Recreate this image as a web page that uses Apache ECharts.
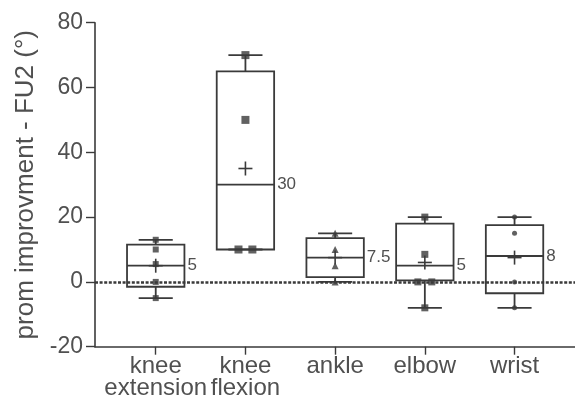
<!DOCTYPE html>
<html>
<head>
<meta charset="utf-8">
<script src="https://cdn.jsdelivr.net/npm/echarts@6/dist/echarts.min.js"></script>
<style>
  html, body { margin: 0; padding: 0; background: #fff; }
  #chart { width: 575px; height: 410px; }
</style>
</head>
<body>
<div id="chart"></div>
<script>
// Joint groups along the x axis
const categories = ['knee\nextension', 'knee\nflexion', 'ankle', 'elbow', 'wrist'];

// Box-and-whisker summary per joint (degrees)
const whiskerLow  = [-5, 10, 0, -8, -8];
const quartile1   = [-1.5, 10, 1.5, 0.5, -3.5];
const medians     = [5, 30, 7.5, 5, 8];
const quartile3   = [11.5, 65, 13.5, 18, 17.5];
const whiskerHigh = [13, 70, 15, 20, 20];
const means       = [5, 35, 7.5, 6, 7.5];

// Individual observations per joint
const kneeExtensionPts = [13, 10, 5.5, 0, -5];
const kneeFlexionPts   = [70, 50, 10, 10];
const anklePts         = [15, 10, 5, 0];
const elbowPts         = [20, 8.5, 0, 0, -8];
const wristPts         = [20, 15, 0, -8];

// Y axis ticks
const yTicks = [-20, 0, 20, 40, 60, 80];

const pointGroups = [
  { pts: kneeExtensionPts, symbol: 'rect', size: 6 },
  { pts: kneeFlexionPts,   symbol: 'rect', size: 8 },
  { pts: anklePts,         symbol: 'triangle', size: 7 },
  { pts: elbowPts,         symbol: 'rect', size: 7 },
  { pts: wristPts,         symbol: 'circle', size: 5 }
];

const INK = '#3a3a3a';
const TEXT = '#505050';
const FONT = '"Liberation Sans", Arial, sans-serif';
const BOX_W = 0.64;
const CAP_W = 0.38;

// Tied values are spread side by side
function spread(values, xc) {
  const seen = {};
  values.forEach(v => { seen[v] = (seen[v] || 0) + 1; });
  const used = {};
  return values.map(v => {
    const n = seen[v];
    const k = used[v] || 0;
    used[v] = k + 1;
    const off = n > 1 ? (k - (n - 1) / 2) * 0.155 : 0;
    return [xc + off, v];
  });
}

const boxData = categories.map((c, i) => [
  i + 1, whiskerLow[i], quartile1[i], medians[i], quartile3[i], whiskerHigh[i], means[i]
]);

function renderBox(params, api) {
  const x = api.value(0);
  const low = api.coord([x, api.value(1)]);
  const q1 = api.coord([x, api.value(2)]);
  const med = api.coord([x, api.value(3)]);
  const q3 = api.coord([x, api.value(4)]);
  const high = api.coord([x, api.value(5)]);
  const mean = api.coord([x, api.value(6)]);
  const bw = api.size([BOX_W, 0])[0];
  const cw = api.size([CAP_W, 0])[0];
  const cx = low[0];
  const line = { stroke: INK, lineWidth: 1.8, fill: null };
  const children = [
    { type: 'rect', shape: { x: cx - bw / 2, y: q3[1], width: bw, height: q1[1] - q3[1] }, style: line },
    { type: 'line', shape: { x1: cx - bw / 2, y1: med[1], x2: cx + bw / 2, y2: med[1] }, style: line },
    { type: 'line', shape: { x1: cx, y1: q3[1], x2: cx, y2: high[1] }, style: line },
    { type: 'line', shape: { x1: cx, y1: q1[1], x2: cx, y2: low[1] }, style: line },
    { type: 'line', shape: { x1: cx - cw / 2, y1: high[1], x2: cx + cw / 2, y2: high[1] }, style: line },
    { type: 'line', shape: { x1: cx - cw / 2, y1: low[1], x2: cx + cw / 2, y2: low[1] }, style: line },
    // mean marker
    { type: 'line', shape: { x1: cx - 7, y1: mean[1], x2: cx + 7, y2: mean[1] }, style: { stroke: INK, lineWidth: 1.6 } },
    { type: 'line', shape: { x1: cx, y1: mean[1] - 7, x2: cx, y2: mean[1] + 7 }, style: { stroke: INK, lineWidth: 1.6 } },
    // median value label
    { type: 'text', x: cx + bw / 2 + 3, y: med[1],
      style: { text: String(api.value(3)), fill: TEXT, font: '17px ' + FONT,
               verticalAlign: 'middle', align: 'left' } }
  ];
  return { type: 'group', children };
}

const series = [
  {
    type: 'custom',
    renderItem: renderBox,
    data: boxData,
    encode: { x: 0, y: [1, 2, 3, 4, 5] },
    z: 3,
    markLine: {
      silent: true,
      symbol: 'none',
      label: { show: false },
      lineStyle: { color: INK, type: [3, 1.6], width: 2.6 },
      data: [{ yAxis: 0 }]
    }
  }
];

pointGroups.forEach((g, i) => {
  series.push({
    type: 'scatter',
    data: spread(g.pts, i + 1),
    symbol: g.symbol,
    symbolSize: g.size,
    itemStyle: { color: INK },
    z: 4
  });
});

const chart = echarts.init(document.getElementById('chart'), null, { renderer: 'canvas' });
chart.setOption({
  animation: false,
  backgroundColor: '#fff',
  grid: { left: 95, right: 0, top: 22.7, bottom: 63.3, containLabel: false },
  xAxis: {
    type: 'value',
    min: 0.323,
    max: 5.674,
    splitLine: { show: false },
    axisLine: { show: true, onZero: false, lineStyle: { color: INK, width: 1.6 } },
    axisTick: { show: true, length: 8, customValues: [1, 2, 3, 4, 5], lineStyle: { color: INK, width: 1.4 } },
    axisLabel: {
      customValues: [1, 2, 3, 4, 5],
      formatter: v => categories[Math.round(v) - 1],
      color: TEXT,
      fontSize: 24,
      lineHeight: 22,
      margin: 9,
      fontFamily: FONT
    }
  },
  yAxis: {
    type: 'value',
    min: yTicks[0],
    max: yTicks[yTicks.length - 1],
    interval: 20,
    splitLine: { show: false },
    axisLine: { show: true, lineStyle: { color: INK, width: 1.6 } },
    axisTick: { show: true, length: 9, lineStyle: { color: INK, width: 1.4 } },
    axisLabel: {
      color: TEXT,
      fontSize: 23,
      margin: 12,
      fontFamily: FONT
    },
    name: 'prom improvment - FU2 (°)',
    nameLocation: 'middle',
    nameRotate: 90,
    nameGap: 56,
    nameTextStyle: { color: TEXT, fontSize: 26, fontFamily: FONT }
  },
  series
});
</script>
</body>
</html>
